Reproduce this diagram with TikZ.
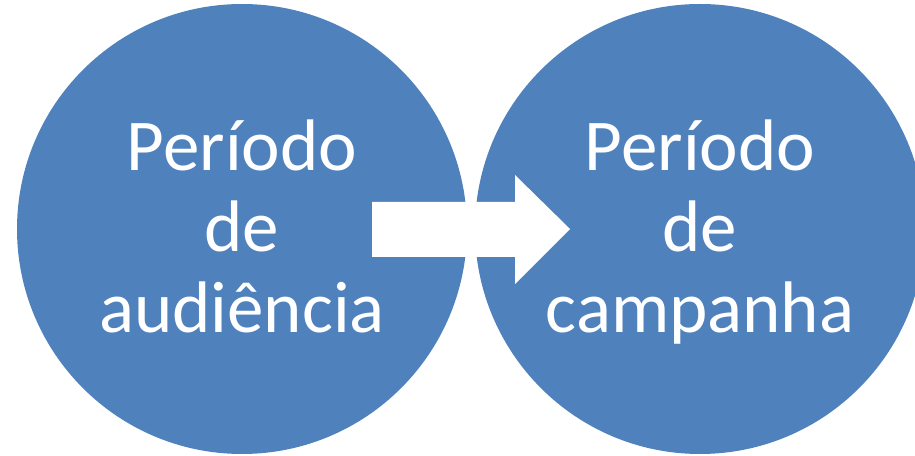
\documentclass[tikz,border=0pt]{standalone}
\usepackage{fontspec}
\setmainfont{Carlito}
\definecolor{stageblue}{HTML}{4F81BD}

\begin{document}
\begin{tikzpicture}[x=1pt, y=1pt,
		stage/.style={circle, fill=stageblue, minimum size=450pt, inner sep=0pt},
		label text/.style={text=white, align=center, anchor=base,
			font=\fontsize{73}{81}\selectfont}]
		\useasboundingbox (0,0) rectangle (915,455);
		\node[stage] (aud) at (242,226) {};
		\node[stage] (camp) at (700,226) {};
		\node[label text] (audtext) at ([yshift=-104pt]aud.center) {Período\\de\\audiência};
		\node[label text] (camptext) at ([yshift=-104pt]camp.center) {Período\\de\\campanha};
		% block arrow between the two periods
		\fill[white]
		(372,198) -- (372,253) -- (515,253) -- (515,280)
		-- (570,226) -- (515,171) -- (515,198) -- cycle;
	\end{tikzpicture}
\end{document}
